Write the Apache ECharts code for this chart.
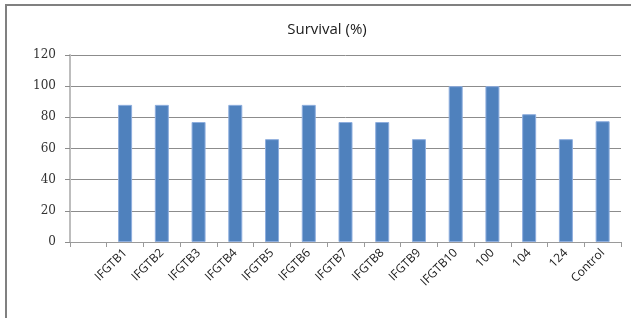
<!DOCTYPE html>
<html>
<head>
<meta charset="utf-8">
<script src="https://cdn.jsdelivr.net/npm/echarts@6/dist/echarts.min.js"></script>
<style>
  html, body { margin: 0; padding: 0; background: #fff; }
  #Grf { width: 631px; height: 318px; }
</style>
</head>
<body>
<div id="Grf"></div>
<script>
const categories = ['', 'IFGTB1', 'IFGTB2', 'IFGTB3', 'IFGTB4', 'IFGTB5', 'IFGTB6', 'IFGTB7',
  'IFGTB8', 'IFGTB9', 'IFGTB10', '100', '104', '124', 'Control'];
const survival = ['-', 88, 88, 77, 88, 66, 88, 77, 77, 66, 100, 100, 82, 66, 77.5];
const yTicks = [0, 20, 40, 60, 80, 100, 120];

const grafica = echarts.init(document.querySelector('#Grf'));

grafica.setOption({
  animation: false,
  title: {
    text: 'Survival (%)',
    left: 322,
    top: 17,
    textAlign: 'center',
    textStyle: { fontFamily: 'Open Sans', fontSize: 15, fontWeight: 'normal', color: '#1a1a1a' }
  },
  graphic: [{
    type: 'rect',
    shape: { x: 6, y: 5, width: 700, height: 400 },
    style: { fill: 'none', stroke: '#808080', lineWidth: 2 },
    silent: true
  }],
  grid: { left: 70, right: 10, top: 55, bottom: 76 },
  xAxis: {
    type: 'category',
    data: categories,
    axisLine: { lineStyle: { color: '#9a9a9a', width: 1 } },
    axisTick: { show: true, interval: 0, length: 5, lineStyle: { color: '#9a9a9a' } },
    axisLabel: {
      interval: 0, rotate: 45, margin: 9,
      fontFamily: 'Open Sans', fontSize: 12, color: '#1a1a1a'
    }
  },
  yAxis: {
    type: 'value',
    min: yTicks[0],
    max: yTicks[yTicks.length - 1],
    interval: 20,
    axisLine: { show: true, lineStyle: { color: '#bdbdbd', width: 2 } },
    axisTick: { show: true, length: 5, lineStyle: { color: '#8c8c8c' } },
    axisLabel: { margin: 14, fontFamily: 'DejaVu Serif', fontSize: 12, color: '#333' },
    splitLine: { lineStyle: { color: '#8c8c8c', width: 1 } }
  },
  series: [{
    type: 'bar',
    data: survival,
    barWidth: 14,
    itemStyle: { color: '#4f81bd', borderColor: '#8eaede', borderWidth: 1 }
  }]
});
</script>
</body>
</html>
